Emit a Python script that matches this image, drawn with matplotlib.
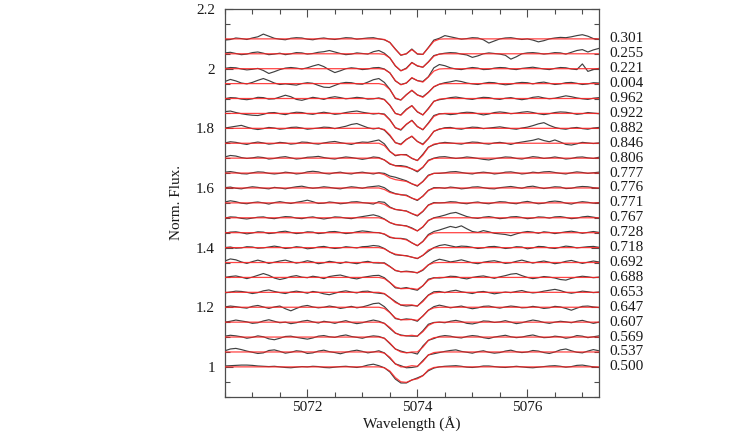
import numpy as np
import matplotlib
matplotlib.use("Agg")
import matplotlib.pyplot as plt
from matplotlib.ticker import MultipleLocator, FuncFormatter
from matplotlib.transforms import blended_transform_factory

plt.rcParams['font.family'] = ['Liberation Serif', 'DejaVu Serif']

# phase labels, bottom spectrum first
phases = ["0.500", "0.537", "0.569", "0.607", "0.647", "0.653", "0.688", "0.692",
          "0.718", "0.728", "0.767", "0.771", "0.776", "0.777", "0.806", "0.846",
          "0.882", "0.922", "0.962", "0.004", "0.221", "0.255", "0.301"]

# model line depth (x0.001) at 5073.3, 5073.4 ... 5074.5 A
depths = [
    [0, 3, 14, 36, 50, 52, 44, 40, 30, 10, 2, 0, 0],
    [0, 4, 18, 40, 50, 50, 46, 48, 32, 10, 2, 0, 0],
    [0, 4, 20, 40, 50, 53, 50, 50, 34, 11, 2, 0, 0],
    [0, 4, 18, 36, 45, 46, 44, 47, 32, 11, 2, 0, 0],
    [0, 4, 18, 36, 42, 42, 41, 44, 30, 10, 2, 0, 0],
    [0, 4, 18, 34, 42, 42, 42, 46, 31, 10, 2, 0, 0],
    [0, 4, 17, 32, 38, 37, 37, 40, 28, 9, 2, 0, 0],
    [0, 3, 14, 26, 31, 31, 32, 34, 24, 8, 1, 0, 0],
    [0, 4, 15, 22, 25, 28, 32, 36, 26, 8, 1, 0, 0],
    [0, 4, 14, 19, 20, 24, 34, 43, 30, 9, 1, 0, 0],
    [0, 5, 16, 22, 25, 28, 36, 44, 30, 9, 1, 0, 0],
    [0, 5, 16, 22, 24, 28, 36, 42, 28, 8, 1, 0, 0],
    [0, 5, 15, 20, 22, 26, 34, 40, 28, 8, 1, 0, 0],
    [0, 5, 16, 22, 25, 28, 36, 42, 29, 9, 1, 0, 0],
    [0, 6, 18, 26, 28, 30, 36, 43, 30, 9, 1, 0, 0],
    [0, 8, 28, 40, 38, 40, 50, 58, 40, 14, 3, 0, 0],
    [0, 4, 22, 48, 55, 38, 26, 44, 55, 35, 10, 2, 0],
    [0, 4, 22, 48, 54, 36, 24, 44, 54, 34, 10, 2, 0],
    [0, 4, 22, 50, 56, 38, 24, 44, 55, 35, 10, 2, 0],
    [0, 4, 20, 48, 55, 38, 22, 38, 46, 30, 10, 2, 0],
    [0, 2, 14, 40, 54, 48, 30, 40, 45, 28, 8, 1, 0],
    [0, 2, 14, 40, 57, 50, 30, 40, 45, 28, 8, 1, 0],
    [0, 2, 12, 35, 54, 50, 36, 50, 52, 30, 8, 1, 0],
]

# observed minus model (x0.001), every 0.1 A from 5070.5 A
resid = [
    [3, 4, 5, 6, 6, 5, 3, 2, 1, 2, 0, -2, -3, -1, 1, 0, 2, 1, -2, -3,
     -1, 1, 2, 0, -2, 1, 6, 9, 4, 0, -3, -5, -4, -2, 0, 3, 1, -3, -2, 0,
     2, 3, 4, 2, -1, -2, 0, 3, 3, 1, -1, -2, 0, 2, 0, -2, -3, -1, 1, 3,
     4, 2, -1, 1, 5, 6, 3, 0, -2],
    [4, 10, 12, 8, 3, -1, -5, -3, 5, 7, 2, -4, -1, 4, 2, -5, -3, 3, 6, 1,
     -2, -6, -1, 3, 6, 2, -3, 0, 4, 1, -3, 0, 4, -3, -6, -1, 3, 0, -4, -2,
     2, 5, 7, 2, -1, -4, 1, 4, -1, -4, -2, 3, 6, 1, -2, 0, 5, 3, -2, -5,
     0, 7, 10, 4, -1, -3, 3, 8, 4],
    [3, 6, 4, 1, -4, -1, 4, 1, -6, -9, -4, 2, 3, -1, -4, -7, -3, 3, 5, 1,
     -1, 4, 7, 2, -1, -4, 1, 4, 2, 0, -2, 0, 3, 1, -2, -7, 4, 0, -3, 2,
     5, 3, -1, -3, 2, 5, 3, -2, -5, 0, 3, 6, 1, -2, 0, 4, 7, 2, -2, -1,
     3, 1, -4, -1, 5, 3, -2, 1, 4],
    [0, 3, 7, 4, 1, -4, -2, 4, 8, 3, -2, 0, -5, -2, 3, 6, 1, -3, 3, 0,
     -4, 1, 5, -1, -5, -2, 3, 7, 3, 0, -3, -1, 2, 0, -3, 0, 3, 4, 1, 0,
     -2, 3, 6, 2, -4, -6, -2, 4, 3, -1, 1, 5, 0, -5, -2, 3, 7, 4, -1, -4,
     0, 3, 1, -2, 3, 6, 1, -4, 0],
    [1, 4, 2, -1, -3, 3, 6, 1, -4, 1, 4, -5, -12, -4, 3, 6, 1, -2, 0, 4,
     1, -4, -1, 3, -2, 1, 6, 12, 14, 6, 1, -2, 0, 3, 0, -3, 1, 0, 4, 7,
     3, -2, 1, 4, -1, -5, -2, 3, 4, 0, -3, 1, 4, 2, -2, -1, 3, 0, -4, -2,
     3, 1, -4, -10, -3, 3, 4, 1, -1],
    [-2, 1, 4, 3, 0, -4, -1, 5, 8, 3, -1, -4, 1, 4, 1, -3, 3, 0, -5, -8,
     -3, 2, 5, 1, -2, 3, 4, -1, -3, -1, 0, 3, -1, -4, -2, 0, 3, 1, 4, 3,
     -1, 4, 7, 2, -1, -4, 1, 3, -1, -5, -2, 1, -1, 3, 6, 1, -2, 0, 4, 7,
     10, 6, 0, -3, 0, 4, 2, -1, 1],
    [0, 3, 5, 1, -4, 1, 7, 13, 7, -2, -7, -3, 3, 6, 1, -1, 4, 1, -4, 3,
     6, 8, 3, -2, -5, 0, 3, 6, 7, 3, 0, -3, 1, 3, -2, -3, 0, 3, 1, -2,
     0, 4, 3, -2, -5, 0, 3, 5, 1, -3, 2, 6, 11, 13, 6, 0, -4, -1, 3, 1,
     -2, -7, -9, -3, 1, 4, 2, -1, 1],
    [5, 12, 9, 2, -3, 3, 8, 3, -3, 1, 5, 8, 3, -2, 1, 6, 2, -4, -1, 4,
     1, -3, 2, -1, -4, 1, 4, -1, -2, 2, 1, -1, 0, 2, 1, -1, -2, 0, 5, 11,
     7, 2, 5, 9, 4, -1, -4, 1, 4, 6, 2, -3, -1, 4, 8, 3, -2, 2, 5, 1,
     -4, -1, 4, 7, 2, -3, 1, 5, 2],
    [0, 2, -2, -1, 3, 2, -2, -1, 2, 5, 2, -3, -1, 3, 1, -4, -2, 2, 4, 0,
     -3, -1, 3, 1, -1, 3, 4, 7, 5, 1, 0, -2, -1, 1, 0, -1, 0, -4, 1, 7,
     10, 6, 2, 5, 4, 1, -3, -1, 3, 4, 1, -3, -1, 3, 2, -4, -1, 4, 3, -1,
     -3, 1, 5, 3, -1, 1, 3, 4, 1],
    [-2, 2, 3, 0, -4, -1, 3, 2, -3, -1, 3, 5, 1, -3, -1, 3, 2, -3, -1, 3,
     4, 1, -3, -1, 3, 6, 4, 1, 0, -1, -2, 0, 1, 2, 0, -1, 1, 3, 5, 9,
     15, 21, 17, 23, 13, 4, 1, 7, 3, -2, -4, -6, -10, -4, 1, 4, 2, -2, 3, 1,
     -3, 0, 3, 5, 2, -2, 1, 4, 1],
    [-1, 3, 2, -2, -4, -1, 2, 3, -1, -3, 1, 4, 3, -1, -3, 1, 3, -1, -4, -1,
     3, 2, -1, -3, 1, 4, 7, 10, 5, 1, 0, -1, 0, 1, 2, 0, -1, 0, 1, 4,
     9, 15, 18, 11, 4, 0, -2, 2, 4, 1, -3, -1, 3, 4, 1, -3, -1, 3, 2, -1,
     3, 4, 1, -3, -1, 3, 5, 2, -1],
    [3, 7, 4, -1, -3, 1, 3, 0, -4, 1, 4, 1, -2, 2, 5, 9, 4, -2, -1, 3,
     1, -3, -1, 3, 4, 1, -1, -4, 4, 7, 2, 0, -1, 1, 0, -2, -1, 1, 2, 0,
     1, 4, 3, -1, -3, 1, 3, -1, -3, 1, 4, 3, -1, -3, 2, 5, 1, -3, -1, 4,
     6, 4, -1, -4, 1, 4, 2, -1, 1],
    [1, 3, -1, -3, 1, 4, 2, -1, -3, 2, 0, -3, 1, 4, 6, 2, -1, 1, 4, 2,
     -1, -3, 1, 4, 2, -1, 3, 5, 7, 6, 3, 1, -1, 2, 0, -2, 1, 0, 2, 1,
     -1, 3, 1, -3, -1, 3, 4, 1, -2, -3, 1, 3, 5, 2, -1, 4, 6, 2, -2, 1,
     4, 3, -2, -1, 3, 5, 4, 1, -1],
    [3, 5, 2, -2, -3, 1, 4, 3, -1, -3, -1, 3, 1, -3, -1, 4, 6, 4, -1, -3,
     1, 3, -1, -3, 1, 3, 0, -3, 1, 4, 6, 8, 5, 2, 0, -2, 1, 2, 0, -1,
     1, 4, 5, 2, -1, -3, 1, 3, 1, -3, -1, 3, 4, 1, -3, -1, 3, 1, 4, 5,
     2, -1, -3, 1, 4, 2, -1, 1, 3],
    [4, 9, 7, 2, -1, 1, 4, 2, -3, -1, 3, 5, 1, -3, -1, 3, 4, 6, 2, -1,
     -3, 1, 4, 2, -1, -4, -1, 4, 2, 0, -2, 1, 3, 2, 0, -3, -1, 2, 1, 4,
     5, 2, -1, 1, 4, 2, -1, -4, -6, -2, 1, 4, 3, -1, -3, 1, 5, 3, -1, 1,
     4, 1, -3, -1, 3, 4, 1, -1, 3],
    [1, 5, 3, -1, -4, 1, 4, 1, -3, -1, 3, 1, -3, -1, 4, 3, -1, -3, 1, 4,
     6, 2, -1, -4, 1, 4, 3, 7, 11, 6, 1, -2, 0, 2, -1, 0, 3, 1, -2, 0,
     3, 1, -1, -3, 1, 4, 3, -1, -3, 1, 3, 0, -4, 1, 4, 7, 10, 15, 9, 5,
     11, 4, -4, -6, -2, 3, 1, -1, 1],
    [1, 4, 7, 10, 4, -1, -4, -1, 3, 1, -3, -1, 3, 4, 1, -3, -1, 1, 4, 3,
     -1, 3, 7, 13, 16, 9, 2, -2, 1, -2, -3, 0, 2, 1, -1, 0, 2, 1, 0, -1,
     2, 3, -1, -3, 1, 4, 3, -1, 1, 3, 5, 2, -1, -3, 1, 4, 9, 15, 19, 10,
     3, -1, -3, 1, 3, -1, -3, 1, 3],
    [6, 8, 3, -1, -4, -6, -7, -3, 2, 3, -1, -4, 1, 4, 3, -1, -3, 1, 4, 1,
     -3, -1, 3, 6, 8, 4, 1, -2, 0, 2, 1, 0, -2, -1, 1, 0, -1, 2, 3, 1,
     -1, -4, -2, 2, 4, 3, -1, -5, -2, 3, 5, 3, -1, 1, 4, 6, 3, -1, -4, -1,
     3, 5, 4, 1, -3, -1, 3, 1, -1],
    [-1, 3, 2, -2, -4, -1, 4, 3, -2, -1, 5, 11, 6, -3, -6, -1, 4, 1, -3, 3,
     6, 3, -1, 1, 4, 2, -2, -1, 2, 1, -1, 0, 1, 2, 0, -1, 0, 2, 1, -2,
     -1, 3, 5, 2, -1, -3, 1, 4, 3, -1, -3, 1, 3, -1, -4, -1, 4, 6, 2, -1,
     1, 5, 9, 6, 2, -1, -3, 1, 3],
    [7, 14, 9, 2, -1, 4, 11, 17, 10, 2, -3, -1, -3, -5, 0, 3, 1, -6, -12, -13,
     -6, 1, 4, 3, -1, -2, 5, 13, 17, 8, 1, -2, 0, 1, -1, 0, 2, 1, -1, 0,
     3, 6, 10, 7, 2, -1, -3, 1, 4, 3, -1, -4, -2, 2, 4, 3, -1, 3, 5, 1,
     -3, -1, 3, 4, 1, -3, -1, 3, 2],
    [1, 4, 3, -1, -4, -2, 1, -6, -16, -10, -3, 2, 4, 2, -1, 3, 9, 14, 7, -4,
     -13, -7, 0, 3, 1, -3, -1, 3, 4, 1, 0, -1, 1, 0, -1, 0, 2, 1, 11, 15,
     10, 3, -1, -3, 1, 4, 2, -3, -2, 2, 4, 3, -1, -3, 1, 3, 5, 2, -1, -3,
     1, 4, 3, -1, -3, 16, -9, -3, 1],
    [3, 5, 1, -3, -1, 4, 6, 2, -3, -1, 2, -3, 0, 4, 3, -1, 1, 5, 7, 11,
     6, 1, -3, -1, 3, 1, -1, 7, 11, 4, 0, -1, 0, 2, 1, -1, 0, 1, 2, 0,
     2, 4, 3, -1, -4, -12, -7, 0, 3, 1, -1, -5, -18, -10, 0, 3, 4, 2, -1, 1,
     4, 3, -1, 5, 11, 14, 6, 13, 18],
    [-4, -2, 3, 1, -2, 3, 7, 16, 9, 2, -1, -3, 2, 4, 3, -1, -3, 1, 3, 0,
     -2, 1, 4, 3, -1, 1, 3, 4, 0, -1, 0, 1, -1, 0, 2, -1, 0, 1, 4, 3,
     11, 7, 3, -1, 1, 4, 3, -3, -14, -7, 0, 3, 4, 1, -2, 0, -4, -10, -6, 0,
     3, 5, 4, 7, 11, 14, 9, 1, -1],
]

fig = plt.figure(figsize=(7.47, 4.42), dpi=100)
ax = fig.add_axes([0.301, 0.1025, 0.5007, 0.877])
lab_tr = blended_transform_factory(ax.transAxes, ax.transData)

for k in range(len(phases)):
    r = np.array(resid[k]) / 1000.0
    wl = 5070.5 + 0.1 * np.arange(len(r))
    prof = np.zeros(len(r))
    prof[28:28 + len(depths[k])] = np.array(depths[k]) / 1000.0
    shift = 0.05 * k
    model = 1.0 + shift - prof
    ax.plot(wl, model + r, color='0.25', lw=0.85, zorder=2)
    ax.plot(wl, model, color='#ff2222', lw=0.9, alpha=0.85, zorder=3)
    ax.text(1.029, 1.0 + shift, phases[k], transform=lab_tr, va='center',
            ha='left', fontsize=11, color='0.1')

ax.set_xlim(5070.5, 5077.3)
ax.set_ylim(0.9, 2.2)
ax.xaxis.set_major_locator(MultipleLocator(2))
ax.xaxis.set_minor_locator(MultipleLocator(0.5))
ax.yaxis.set_major_locator(MultipleLocator(0.2))
ax.yaxis.set_minor_locator(MultipleLocator(0.05))
ax.xaxis.set_major_formatter(FuncFormatter(lambda v, p: '%g' % v))
ax.yaxis.set_major_formatter(FuncFormatter(lambda v, p: '%g' % round(v, 2)))
ax.tick_params(which='both', direction='in', top=True, right=True,
               color='0.3', labelsize=11, labelcolor='0.1')
ax.tick_params(which='major', length=6, width=0.8)
ax.tick_params(which='minor', length=3.5, width=0.8)
ax.tick_params(axis='y', pad=7)
ax.tick_params(axis='x', pad=3)
for s in ax.spines.values():
    s.set_color('0.3')
    s.set_linewidth(0.9)

ax.set_xlabel('Wavelength (Å)', fontsize=11, color='0.1')
ax.set_ylabel('Norm. Flux.', fontsize=11, color='0.1')
ax.xaxis.set_label_coords(0.5, -0.05)
ax.yaxis.set_label_coords(-0.112, 0.5)

fig.savefig('out.png', dpi=100)
